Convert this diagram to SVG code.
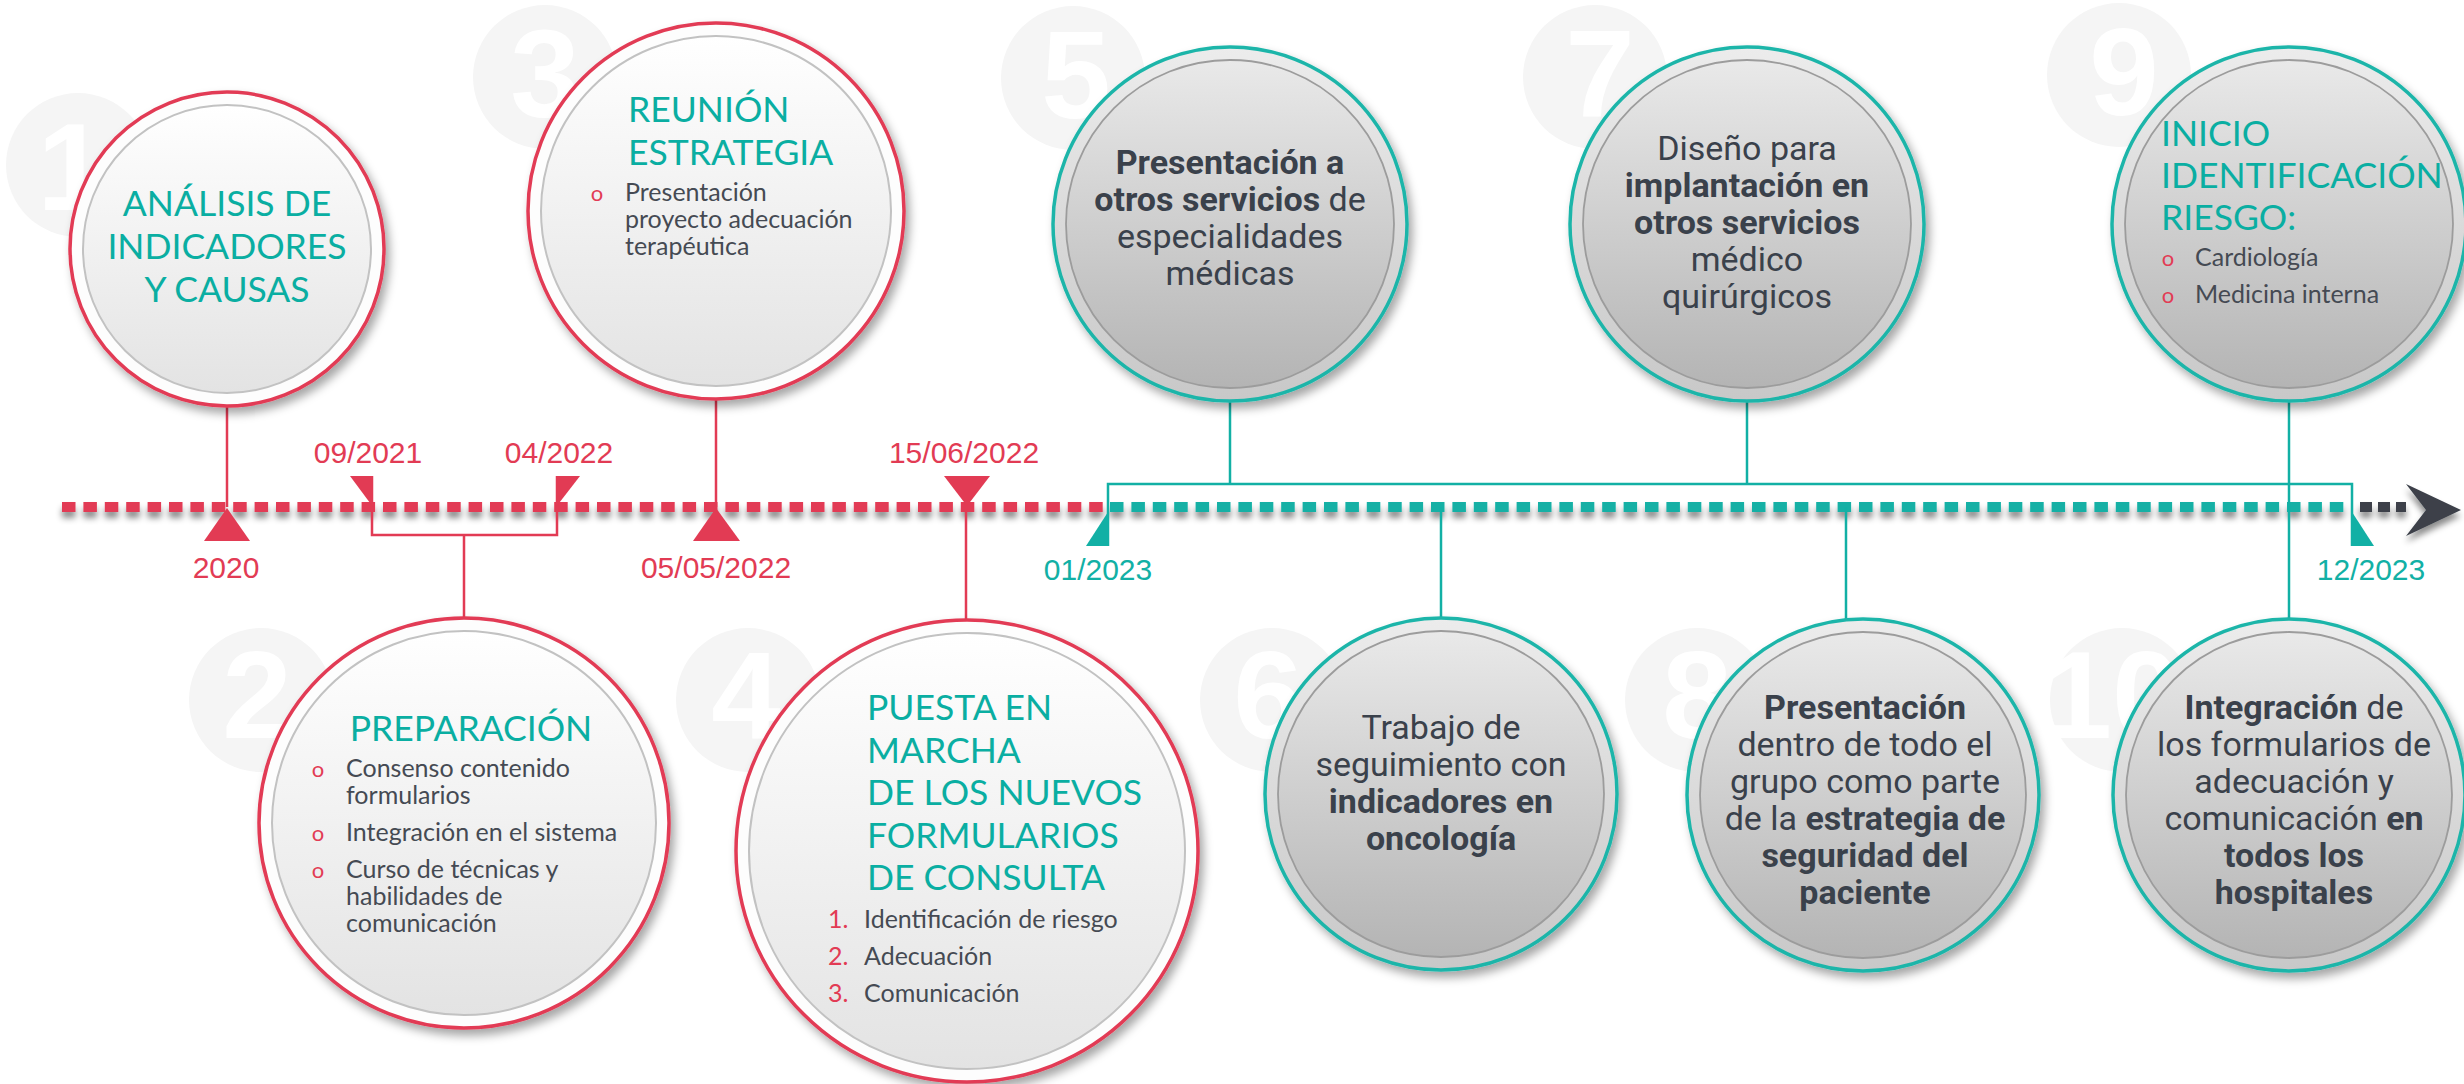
<svg xmlns="http://www.w3.org/2000/svg" width="2464" height="1084" viewBox="0 0 2464 1084">
<defs>
<style>
.h{font-family:Lato,"Liberation Sans",sans-serif;font-size:35.5px;fill:#0aaea2}
.b{font-family:Lato,"Liberation Sans",sans-serif;font-size:25px;fill:#454a53}
.bu{font-family:Lato,"Liberation Sans",sans-serif;font-size:22px;fill:#e23b54;text-anchor:middle}
.nu{font-family:Lato,"Liberation Sans",sans-serif;font-size:25px;fill:#e23b54}
.d{font-family:"Liberation Sans",Arial,sans-serif;font-size:30px;fill:#e23b54;text-anchor:middle}
.dt{font-family:"Liberation Sans",Arial,sans-serif;font-size:30px;fill:#12b0a5;text-anchor:middle}
.t{font-family:Roboto,"Liberation Sans",sans-serif;font-size:34px;fill:#3a414b;text-anchor:middle}
.bo{font-weight:700}
.wm{font-family:"Liberation Sans",Arial,sans-serif;font-weight:700;font-size:125px;fill:#ffffff;text-anchor:middle}
.wc{fill:#f5f5f5}
.rs{stroke:#e23b54;stroke-width:2.5;fill:none}
.ts{stroke:#12b0a5;stroke-width:2.5;fill:none}
.ro{fill:#fdfdfd;stroke:#e23b54;stroke-width:3.5}
.to{fill:url(#gBand);stroke:#1cb5a9;stroke-width:3.5}
.ri{fill:url(#gR);stroke:#c2c2c2;stroke-width:2}
.ti{fill:url(#gT);stroke:#9c9c9c;stroke-width:1.8}
</style>
<linearGradient id="gR" x1="0" y1="0" x2="0" y2="1">
<stop offset="0" stop-color="#ffffff"/><stop offset="1" stop-color="#e3e3e3"/>
</linearGradient>
<linearGradient id="gT" x1="0" y1="0" x2="0" y2="1">
<stop offset="0" stop-color="#e9e9e9"/><stop offset="1" stop-color="#b4b4b4"/>
</linearGradient>
<linearGradient id="gBand" x1="0" y1="0" x2="0" y2="1">
<stop offset="0" stop-color="#ececec"/><stop offset="1" stop-color="#c8c8c8"/>
</linearGradient>
<filter id="sh" x="-20%" y="-20%" width="140%" height="140%">
<feDropShadow dx="4" dy="6" stdDeviation="5" flood-color="#000" flood-opacity="0.35"/>
</filter>
<filter id="lsh" x="-5%" y="-200%" width="110%" height="500%">
<feDropShadow dx="0" dy="6" stdDeviation="3" flood-color="#000" flood-opacity="0.45"/>
</filter>
</defs>

<rect width="2464" height="1084" fill="#ffffff"/>

<g id="watermarks">
<circle class="wc" cx="78" cy="165" r="72"/><text class="wm" x="72" y="210">1</text>
<circle class="wc" cx="545" cy="77" r="72"/><text class="wm" x="545" y="117">3</text>
<circle class="wc" cx="1073" cy="78" r="72"/><text class="wm" x="1076" y="118">5</text>
<circle class="wc" cx="1595" cy="77" r="72"/><text class="wm" x="1600" y="117">7</text>
<circle class="wc" cx="2119" cy="75" r="72"/><text class="wm" x="2124" y="115">9</text>
<circle class="wc" cx="261" cy="700" r="72"/><text class="wm" x="257" y="738">2</text>
<circle class="wc" cx="748" cy="700" r="72"/><text class="wm" x="746" y="738">4</text>
<circle class="wc" cx="1272" cy="700" r="72"/><text class="wm" x="1268" y="738">6</text>
<circle class="wc" cx="1697" cy="700" r="72"/><text class="wm" x="1697" y="738">8</text>
<circle class="wc" cx="2122" cy="700" r="72"/><text class="wm" x="2112" y="738">10</text>
</g>

<g id="connectors">
<g filter="url(#lsh)">
<line x1="62" y1="507" x2="1104" y2="507" stroke="#e23b54" stroke-width="10" stroke-dasharray="13.5 7.9"/>
<line x1="1110" y1="507" x2="2352" y2="507" stroke="#12b0a5" stroke-width="10" stroke-dasharray="13.5 7.9"/>
<line x1="2360" y1="507" x2="2406" y2="507" stroke="#3c4049" stroke-width="10" stroke-dasharray="12 6"/>
<polygon points="2406,484 2461,510 2406,536 2426,510" fill="#3c4049"/>
</g>
<line class="rs" x1="227" y1="405" x2="227" y2="507"/>
<line class="rs" x1="716" y1="398" x2="716" y2="507"/>
<path class="rs" d="M372 476 V535 H557 V476 M464 535 V620"/>
<line class="rs" x1="966" y1="476" x2="966" y2="621"/>
<polygon points="204,541 250,541 227,508" fill="#e23b54"/>
<polygon points="693,541 740,541 716,508" fill="#e23b54"/>
<polygon points="944,476 990,476 967,506" fill="#e23b54"/>
<polygon points="350,476 373,476 373,507" fill="#e23b54"/>
<polygon points="556,476 580,476 556,507" fill="#e23b54"/>
<path class="ts" d="M1108 546 V484 H2352 V546"/>
<line class="ts" x1="1230" y1="398" x2="1230" y2="484"/>
<line class="ts" x1="1747" y1="398" x2="1747" y2="484"/>
<line class="ts" x1="2289" y1="400" x2="2289" y2="620"/>
<line class="ts" x1="1441" y1="507" x2="1441" y2="620"/>
<line class="ts" x1="1846" y1="507" x2="1846" y2="620"/>
<polygon points="1108,512 1108,546 1086,546" fill="#12b0a5"/>
<polygon points="2352,512 2352,546 2374,546" fill="#12b0a5"/>
<text class="d" x="226" y="578">2020</text>
<text class="d" x="368" y="463">09/2021</text>
<text class="d" x="559" y="463">04/2022</text>
<text class="d" x="716" y="578">05/05/2022</text>
<text class="d" x="964" y="463">15/06/2022</text>
<text class="dt" x="1098" y="580">01/2023</text>
<text class="dt" x="2371" y="580">12/2023</text>
</g>

<g id="node1">
<circle class="ro" cx="227" cy="249" r="157" filter="url(#sh)"/>
<circle class="ri" cx="227" cy="249" r="144"/>
<text class="h" text-anchor="middle"><tspan x="227" y="216">ANÁLISIS DE</tspan><tspan x="227" y="259">INDICADORES</tspan><tspan x="227" y="302">Y CAUSAS</tspan></text>
</g>

<g id="node3">
<circle class="ro" cx="716" cy="211" r="188" filter="url(#sh)"/>
<circle class="ri" cx="716" cy="211" r="175"/>
<text class="h"><tspan x="628" y="122">REUNIÓN</tspan><tspan x="628" y="165">ESTRATEGIA</tspan></text>
<text class="bu" x="597" y="201">o</text>
<text class="b"><tspan x="625" y="201">Presentación</tspan><tspan x="625" y="228">proyecto adecuación</tspan><tspan x="625" y="255">terapéutica</tspan></text>
</g>

<g id="node2">
<circle class="ro" cx="464" cy="823" r="205" filter="url(#sh)"/>
<circle class="ri" cx="464" cy="823" r="192"/>
<text class="h" x="471" y="741" text-anchor="middle">PREPARACIÓN</text>
<text class="bu" x="318" y="777">o</text>
<text class="bu" x="318" y="841">o</text>
<text class="bu" x="318" y="878">o</text>
<text class="b"><tspan x="346" y="777">Consenso contenido</tspan><tspan x="346" y="804">formularios</tspan><tspan x="346" y="841">Integración en el sistema</tspan><tspan x="346" y="878">Curso de técnicas y</tspan><tspan x="346" y="905">habilidades de</tspan><tspan x="346" y="932">comunicación</tspan></text>
</g>

<g id="node4">
<circle class="ro" cx="967" cy="851" r="231" filter="url(#sh)"/>
<circle class="ri" cx="967" cy="851" r="218"/>
<text class="h"><tspan x="867" y="720">PUESTA EN</tspan><tspan x="867" y="763">MARCHA</tspan><tspan x="867" y="805">DE LOS NUEVOS</tspan><tspan x="867" y="848">FORMULARIOS</tspan><tspan x="867" y="890">DE CONSULTA</tspan></text>
<text class="nu"><tspan x="828" y="928">1.</tspan><tspan x="828" y="965">2.</tspan><tspan x="828" y="1002">3.</tspan></text>
<text class="b"><tspan x="864" y="928">Identificación de riesgo</tspan><tspan x="864" y="965">Adecuación</tspan><tspan x="864" y="1002">Comunicación</tspan></text>
</g>

<g id="node5">
<circle class="to" cx="1230" cy="224" r="177" filter="url(#sh)"/>
<circle class="ti" cx="1230" cy="224" r="164"/>
<text class="t"><tspan x="1230" y="174" class="bo">Presentación a</tspan><tspan x="1230" y="211"><tspan class="bo">otros servicios</tspan> de</tspan><tspan x="1230" y="248">especialidades</tspan><tspan x="1230" y="285">médicas</tspan></text>
</g>

<g id="node7">
<circle class="to" cx="1747" cy="224" r="177" filter="url(#sh)"/>
<circle class="ti" cx="1747" cy="224" r="164"/>
<text class="t"><tspan x="1747" y="160">Diseño para</tspan><tspan x="1747" y="197" class="bo">implantación en</tspan><tspan x="1747" y="234" class="bo">otros servicios</tspan><tspan x="1747" y="271">médico</tspan><tspan x="1747" y="308">quirúrgicos</tspan></text>
</g>

<g id="node9">
<circle class="to" cx="2289" cy="224" r="177" filter="url(#sh)"/>
<circle class="ti" cx="2289" cy="224" r="164"/>
<text class="h"><tspan x="2161" y="146">INICIO</tspan><tspan x="2161" y="188">IDENTIFICACIÓN</tspan><tspan x="2161" y="230">RIESGO:</tspan></text>
<text class="bu" x="2168" y="266">o</text>
<text class="bu" x="2168" y="303">o</text>
<text class="b"><tspan x="2195" y="266">Cardiología</tspan><tspan x="2195" y="303">Medicina interna</tspan></text>
</g>

<g id="node6">
<circle class="to" cx="1441" cy="794" r="176" filter="url(#sh)"/>
<circle class="ti" cx="1441" cy="794" r="163"/>
<text class="t"><tspan x="1441" y="739">Trabajo de</tspan><tspan x="1441" y="776">seguimiento con</tspan><tspan x="1441" y="813" class="bo">indicadores en</tspan><tspan x="1441" y="850" class="bo">oncología</tspan></text>
</g>

<g id="node8">
<circle class="to" cx="1863" cy="795" r="176" filter="url(#sh)"/>
<circle class="ti" cx="1863" cy="795" r="163"/>
<text class="t"><tspan x="1865" y="719" class="bo">Presentación</tspan><tspan x="1865" y="756">dentro de todo el</tspan><tspan x="1865" y="793">grupo como parte</tspan><tspan x="1865" y="830">de la <tspan class="bo">estrategia de</tspan></tspan><tspan x="1865" y="867" class="bo">seguridad del</tspan><tspan x="1865" y="904" class="bo">paciente</tspan></text>
</g>

<g id="node10">
<circle class="to" cx="2289" cy="795" r="176" filter="url(#sh)"/>
<circle class="ti" cx="2289" cy="795" r="163"/>
<text class="t"><tspan x="2294" y="719"><tspan class="bo">Integración</tspan> de</tspan><tspan x="2294" y="756">los formularios de</tspan><tspan x="2294" y="793">adecuación y</tspan><tspan x="2294" y="830">comunicación <tspan class="bo">en</tspan></tspan><tspan x="2294" y="867" class="bo">todos los</tspan><tspan x="2294" y="904" class="bo">hospitales</tspan></text>
</g>
</svg>
